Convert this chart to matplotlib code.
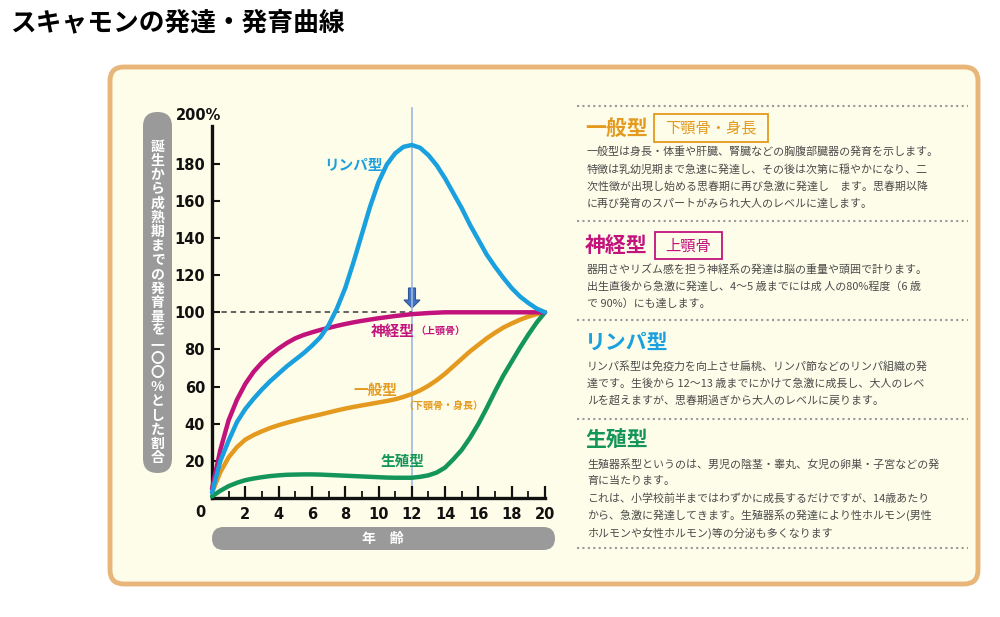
import matplotlib
matplotlib.use("Agg")
import matplotlib.pyplot as plt
from matplotlib.patches import FancyBboxPatch, Rectangle, FancyArrow
from matplotlib.ticker import MultipleLocator

plt.rcParams['font.family'] = ['Noto Sans CJK JP', 'DejaVu Sans']

# ---------------- data (every half year) ----------------
ages = [0, 0.5, 1, 1.5, 2, 2.5, 3, 3.5, 4, 4.5, 5, 5.5, 6, 6.5, 7, 7.5, 8, 8.5, 9, 9.5,
        10, 10.5, 11, 11.5, 12, 12.5, 13, 13.5, 14, 14.5, 15, 15.5, 16, 16.5, 17, 17.5,
        18, 18.5, 19, 19.5, 20]
lymph = [3, 20, 31, 41, 48, 53.5, 58.5, 63, 67, 71, 74.5, 78, 82, 86.5, 93, 102, 113, 127, 142, 157,
         170, 179.5, 185.5, 189, 190, 188.5, 184.5, 179, 172, 164, 156, 147, 139, 131, 124.5, 118.5,
         113, 108.5, 105, 102, 100]
neural = [5, 26, 42, 53, 61.5, 68, 73, 77, 80.5, 83.5, 86, 87.8, 89.2, 90.5, 91.6, 92.7, 93.7, 94.6, 95.4, 96.1,
          96.8, 97.4, 98, 98.5, 99, 99.3, 99.6, 99.8, 100, 100, 100, 100, 100, 100, 100, 100,
          100, 100, 100, 100, 100]
general = [3, 14, 22, 27.5, 31.5, 34, 36, 37.8, 39.3, 40.6, 41.8, 43, 44, 45, 46.1, 47.2, 48.2, 49.1, 49.9, 50.7,
           51.5, 52.3, 53.2, 54.5, 56, 58, 60.5, 63.5, 67, 71, 75, 79, 82.5, 86, 89, 91.8,
           94, 96, 97.7, 99, 100]
genital = [1, 4, 6.5, 8.3, 9.7, 10.6, 11.3, 11.9, 12.3, 12.6, 12.7, 12.8, 12.8, 12.7, 12.5, 12.3, 12.1, 11.9, 11.7, 11.5,
           11.3, 11.1, 11, 11, 11, 11.5, 12.3, 13.8, 16.5, 21, 26, 32.5, 40, 48.5, 57.5, 66,
           73.5, 81, 88, 94.5, 100]

x_ticks = [2, 4, 6, 8, 10, 12, 14, 16, 18, 20]
y_ticks = [20, 40, 60, 80, 100, 120, 140, 160, 180]

title = "スキャモンの発達・発育曲線"
y_label = "誕生から成熟期までの発育量を一〇〇%とした割合"
x_label = "年　齢"

c_blue, c_mag, c_orange, c_green = '#1AA0DE', '#C2137D', '#E39A1E', '#14955A'

sections = [
    ("一般型", c_orange, "下顎骨・身長", 128, [
        "一般型は身長・体重や肝臓、腎臓などの胸腹部臓器の発育を示します。",
        "特徴は乳幼児期まで急速に発達し、その後は次第に穏やかになり、二",
        "次性徴が出現し始める思春期に再び急激に発達し　ます。思春期以降",
        "に再び発育のスパートがみられ大人のレベルに達します。"]),
    ("神経型", c_mag, "上顎骨", 245, [
        "器用さやリズム感を担う神経系の発達は脳の重量や頭囲で計ります。",
        "出生直後から急激に発達し、4～5 歳までには成 人の80%程度（6 歳",
        "で 90%）にも達します。"]),
    ("リンパ型", c_blue, None, 342, [
        "リンパ系型は免疫力を向上させ扁桃、リンパ節などのリンパ組織の発",
        "達です。生後から 12～13 歳までにかけて急激に成長し、大人のレベ",
        "ルを超えますが、思春期過ぎから大人のレベルに戻ります。"]),
    ("生殖型", c_green, None, 440, [
        "生殖器系型というのは、男児の陰茎・睾丸、女児の卵巣・子宮などの発",
        "育に当たります。",
        "これは、小学校前半まではわずかに成長するだけですが、14歳あたり",
        "から、急激に発達してきます。生殖器系の発達により性ホルモン(男性",
        "ホルモンや女性ホルモン)等の分泌も多くなります"]),
]

# ---------------- figure ----------------
W, H = 1000, 617
fig = plt.figure(figsize=(W / 100, H / 100), dpi=100)
fig.patch.set_facecolor('white')

bg = fig.add_axes([0, 0, 1, 1], zorder=0)
bg.set_xlim(0, W)
bg.set_ylim(H, 0)
bg.axis('off')

bg.text(10, 23, title, fontsize=18.5, fontweight='bold', va='center', ha='left', color='black')

bg.add_patch(FancyBboxPatch((110, 67), 868, 517, boxstyle="round,pad=0,rounding_size=14",
                            fc='#FEFDEA', ec='#E9B679', lw=3.5))

# y label pill (vertical, upright characters)
bg.add_patch(FancyBboxPatch((143, 112), 29, 361, boxstyle="round,pad=0,rounding_size=14.5",
                            fc='#9A9A9A', ec='none'))
n = len(y_label)
for i, ch in enumerate(y_label):
    bg.text(157.5, 147 + i * (458 - 147) / (n - 1), ch, fontsize=10, fontweight='bold',
            color='white', ha='center', va='center')

# x label pill
bg.add_patch(FancyBboxPatch((212, 527), 343, 23, boxstyle="round,pad=0,rounding_size=11.5",
                            fc='#9A9A9A', ec='none'))
bg.text(383, 538.5, x_label, fontsize=10, fontweight='bold', color='white', ha='center', va='center')

# right-side text panel
for ysep in [106, 221, 320, 419, 548]:
    bg.plot([577, 968], [ysep, ysep], color='#999999', lw=1.5, ls=(0, (1, 1.6)))

for head, col, tag, yh, lines in sections:
    bg.text(585, yh, head, fontsize=15, fontweight='bold', color=col, ha='left', va='center')
    if tag is not None:
        if len(tag) > 3:
            bg.add_patch(Rectangle((654, 114), 114, 28, fc='none', ec=col, lw=1.3))
            bg.text(711, 128.5, tag, fontsize=11, color=col, ha='center', va='center')
        else:
            bg.add_patch(Rectangle((655, 232), 67, 27, fc='none', ec=col, lw=1.3))
            bg.text(688.5, 246, tag, fontsize=11, color=col, ha='center', va='center')
    for k, ln in enumerate(lines):
        bg.text(587, yh + 24 + k * 17.2, ln, fontsize=7.9, color='#4a4a4a', ha='left', va='center')

# ---------------- chart ----------------
x0, x1, y0, y1 = 212, 545, 498.2, 126.4
ax = fig.add_axes([x0 / W, 1 - y0 / H, (x1 - x0) / W, (y0 - y1) / H], zorder=2)
ax.set_facecolor('none')
ax.set_xlim(0, 20)
ax.set_ylim(0, 200)
for s in ['top', 'right']:
    ax.spines[s].set_visible(False)
for s in ['left', 'bottom']:
    ax.spines[s].set_linewidth(2.4)
    ax.spines[s].set_color('#111111')

ax.set_xticks(x_ticks)
ax.set_xticklabels([str(v) for v in x_ticks])
ax.xaxis.set_minor_locator(MultipleLocator(1))
ax.set_yticks(y_ticks)
ax.set_yticklabels([str(v) for v in y_ticks])
ax.tick_params(axis='x', which='major', direction='in', length=9, width=1.6, pad=6,
               labelsize=10.5, color='#111111')
ax.tick_params(axis='x', which='minor', direction='in', length=5, width=1.3, color='#111111')
ax.tick_params(axis='y', which='major', direction='in', length=5.5, width=1.5, pad=5,
               labelsize=10.5, color='#111111')
for lab in ax.get_xticklabels() + ax.get_yticklabels():
    lab.set_fontweight('bold')
    lab.set_fontfamily('DejaVu Sans')
    lab.set_color('#111111')

bg.text(199, 115, "200%", fontsize=10.5, fontweight='bold', family='DejaVu Sans',
        color='#111111', ha='center', va='center')
bg.text(200, 512.5, "0", fontsize=10.5, fontweight='bold', family='DejaVu Sans',
        color='#111111', ha='center', va='center')

# reference lines
ax.axvline(12, ymin=0, ymax=1.05, color='#9DB9E0', lw=1.2, clip_on=False, zorder=1)
ax.hlines(100, 0, 12, colors='#555555', linestyles=(0, (3, 2.2)), lw=1.3, zorder=1)

# curves
style = dict(lw=3.2, solid_capstyle='round', solid_joinstyle='round', clip_on=False)
ax.plot(ages, general, color=c_orange, zorder=3, **style)
ax.plot(ages, genital, color=c_green, zorder=3, **style)
ax.plot(ages, neural, color=c_mag, zorder=4, **style)
ax.plot(ages, lymph, color=c_blue, zorder=5, **style)

# curve labels
ax.text(8.47, 179, "リンパ型", color=c_blue, fontsize=10.5, fontweight='bold', ha='center', va='center')
ax.text(12.19, 90, "神経型", color=c_mag, fontsize=10.5, fontweight='bold', ha='right', va='center')
ax.text(12.19, 90, "（上顎骨）", color=c_mag, fontsize=7.2, fontweight='bold', ha='left', va='center')
ax.text(9.79, 58, "一般型", color=c_orange, fontsize=10.5, fontweight='bold', ha='center', va='center')
ax.text(13.9, 49, "（下顎骨・身長）", color=c_orange, fontsize=7.2, fontweight='bold', ha='center', va='center')
ax.text(11.47, 20, "生殖型", color=c_green, fontsize=10.5, fontweight='bold', ha='center', va='center')

# arrow at age 12
bg.add_patch(FancyArrow(412, 288, 0, 20, width=7, head_width=16, head_length=8,
                        length_includes_head=True, fc='#4472C4', ec='#2F5597', lw=0.8, zorder=5))

fig.savefig('out.png', dpi=100, facecolor='white')
